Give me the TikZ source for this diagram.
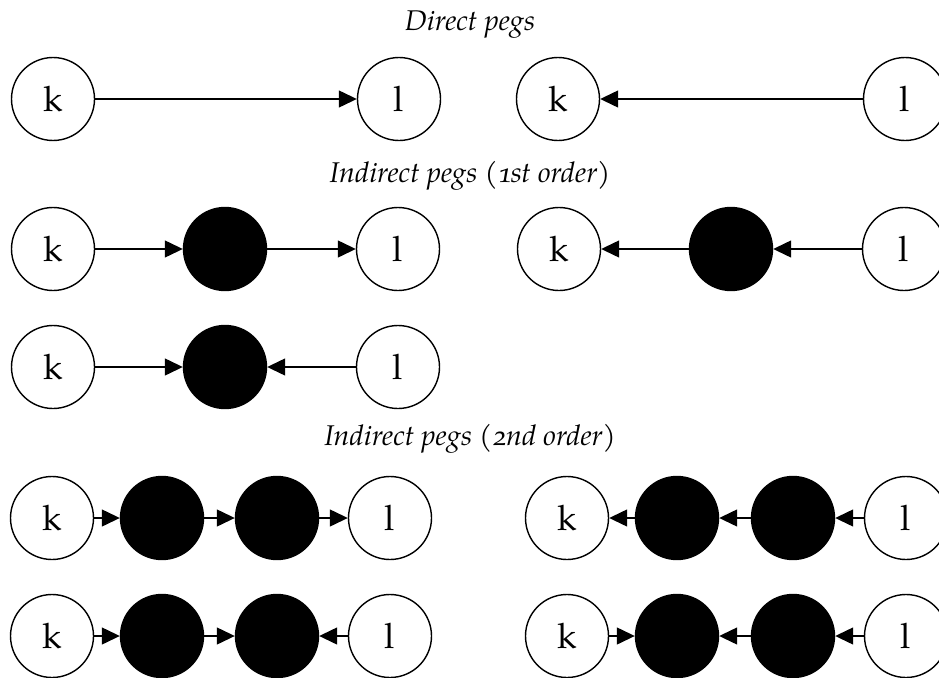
\documentclass[tikz,border=0pt]{standalone}
\usepackage{fontspec}
\setmainfont{TeX Gyre Pagella}[Numbers=OldStyle]
\usetikzlibrary{arrows.meta}
\tikzset{
  peg/.style={circle, draw, line width=1.4pt, minimum size=83pt, inner sep=0pt, font=\fontsize{35}{35}\selectfont},
  hid/.style={peg, fill=black},
  conn/.style={line width=1.3pt, -{Triangle[length=18pt,width=17pt]}},
  ttl/.style={anchor=base, font=\fontsize{28.5}{30}\selectfont\itshape}
}
\begin{document}
\begin{tikzpicture}[x=1pt,y=-1pt]
\useasboundingbox (0,0) rectangle (939,677);
% titles
\node[ttl] (t1) at (470,31) {Direct pegs};
\node[ttl] (t2) at (470,182) {Indirect pegs (1st order)};
\node[ttl] (t3) at (470,445) {Indirect pegs (2nd order)};
% row 1
\node[peg] (a1k) at (53,99) {k};
\node[peg] (a1l) at (399,99) {l};
\draw[conn] (a1k) -- (a1l);
\node[peg] (b1k) at (558,99) {k};
\node[peg] (b1l) at (905,99) {l};
\draw[conn] (b1l) -- (b1k);
% row 2
\node[peg] (a2k) at (53,249) {k};
\node[hid] (a2m) at (225,249) {};
\node[peg] (a2l) at (398,249) {l};
\draw[conn] (a2k) -- (a2m);
\draw[conn] (a2m) -- (a2l);
\node[peg] (b2k) at (559,249) {k};
\node[hid] (b2m) at (731,249) {};
\node[peg] (b2l) at (904,249) {l};
\draw[conn] (b2m) -- (b2k);
\draw[conn] (b2l) -- (b2m);
% row 3
\node[peg] (a3k) at (53,367) {k};
\node[hid] (a3m) at (225,367) {};
\node[peg] (a3l) at (398,367) {l};
\draw[conn] (a3k) -- (a3m);
\draw[conn] (a3l) -- (a3m);
% row 4
\node[peg] (a4k) at (52,518) {k};
\node[hid] (a4m) at (162,518) {};
\node[hid] (a4n) at (277,518) {};
\node[peg] (a4l) at (390,518) {l};
\draw[conn] (a4k) -- (a4m);
\draw[conn] (a4m) -- (a4n);
\draw[conn] (a4n) -- (a4l);
\node[peg] (b4k) at (567,518) {k};
\node[hid] (b4m) at (677,518) {};
\node[hid] (b4n) at (793,518) {};
\node[peg] (b4l) at (906,518) {l};
\draw[conn] (b4m) -- (b4k);
\draw[conn] (b4n) -- (b4m);
\draw[conn] (b4l) -- (b4n);
% row 5
\node[peg] (a5k) at (52,636) {k};
\node[hid] (a5m) at (162,636) {};
\node[hid] (a5n) at (277,636) {};
\node[peg] (a5l) at (390,636) {l};
\draw[conn] (a5k) -- (a5m);
\draw[conn] (a5m) -- (a5n);
\draw[conn] (a5l) -- (a5n);
\node[peg] (b5k) at (567,636) {k};
\node[hid] (b5m) at (677,636) {};
\node[hid] (b5n) at (793,636) {};
\node[peg] (b5l) at (906,636) {l};
\draw[conn] (b5k) -- (b5m);
\draw[conn] (b5n) -- (b5m);
\draw[conn] (b5l) -- (b5n);
\end{tikzpicture}
\end{document}
